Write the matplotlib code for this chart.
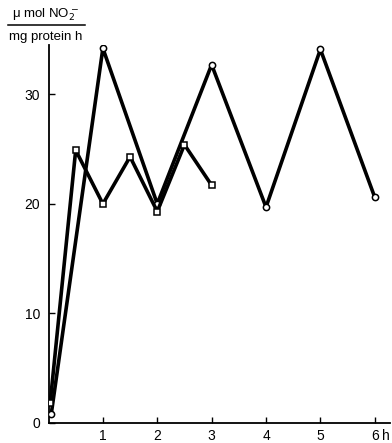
import matplotlib
matplotlib.use("Agg")
import matplotlib.pyplot as plt
from matplotlib.lines import Line2D

plt.rcParams['font.family'] = ['Liberation Sans', 'DejaVu Sans']

# Series with circles
t_circle = [0.05, 1, 2, 3, 4, 5, 6]
v_circle = [0.8, 34.2, 20.0, 32.7, 19.7, 34.1, 20.6]
# Series with squares
t_square = [0.03, 0.5, 1, 1.5, 2, 2.5, 3]
v_square = [1.8, 24.9, 20.0, 24.3, 19.3, 25.4, 21.7]

xticks = [1, 2, 3, 4, 5, 6]
xticklabels = ["1", "2", "3", "4", "5", "6"]
yticks = [0, 10, 20, 30]

fig = plt.figure(figsize=(3.92, 4.43), dpi=100)
ax = fig.add_axes([48.5/392, 20/443, (390-48.5)/392, (423-45)/443])

ax.plot(t_circle, v_circle, color='black', lw=2.6, marker='o', ms=4.5,
        mfc='white', mec='black', mew=1.1, zorder=3)
ax.plot(t_square, v_square, color='black', lw=2.6, marker='s', ms=4.5,
        mfc='white', mec='black', mew=1.1, zorder=3)

ax.set_xlim(0, 6.28)
ax.set_ylim(0, 34.5)
ax.spines['top'].set_visible(False)
ax.spines['right'].set_visible(False)
ax.spines['left'].set_linewidth(1.3)
ax.spines['bottom'].set_linewidth(1.3)
ax.set_xticks(xticks)
ax.set_xticklabels(xticklabels)
ax.set_yticks(yticks)
ax.tick_params(axis='both', direction='in', length=4, width=1, labelsize=10)
ax.tick_params(axis='x', pad=4)
ax.tick_params(axis='y', pad=6)

ax.annotate("h", xy=(6, 0), xycoords='data', xytext=(5.5, -4),
            textcoords='offset points', ha='left', va='top', fontsize=10)

# y unit label
fig.text(45/392, 1 - 15/443, r"μ mol NO$_2^-$",
         ha='center', va='center', fontsize=9.5)
fig.add_artist(Line2D([8/392, 85/392], [1 - 25/443, 1 - 25/443],
                      color='black', lw=1.1, transform=fig.transFigure))
fig.text(46/392, 1 - 37/443, "mg protein h", ha='center', va='center', fontsize=9.5)

fig.savefig("out.png", dpi=100)
